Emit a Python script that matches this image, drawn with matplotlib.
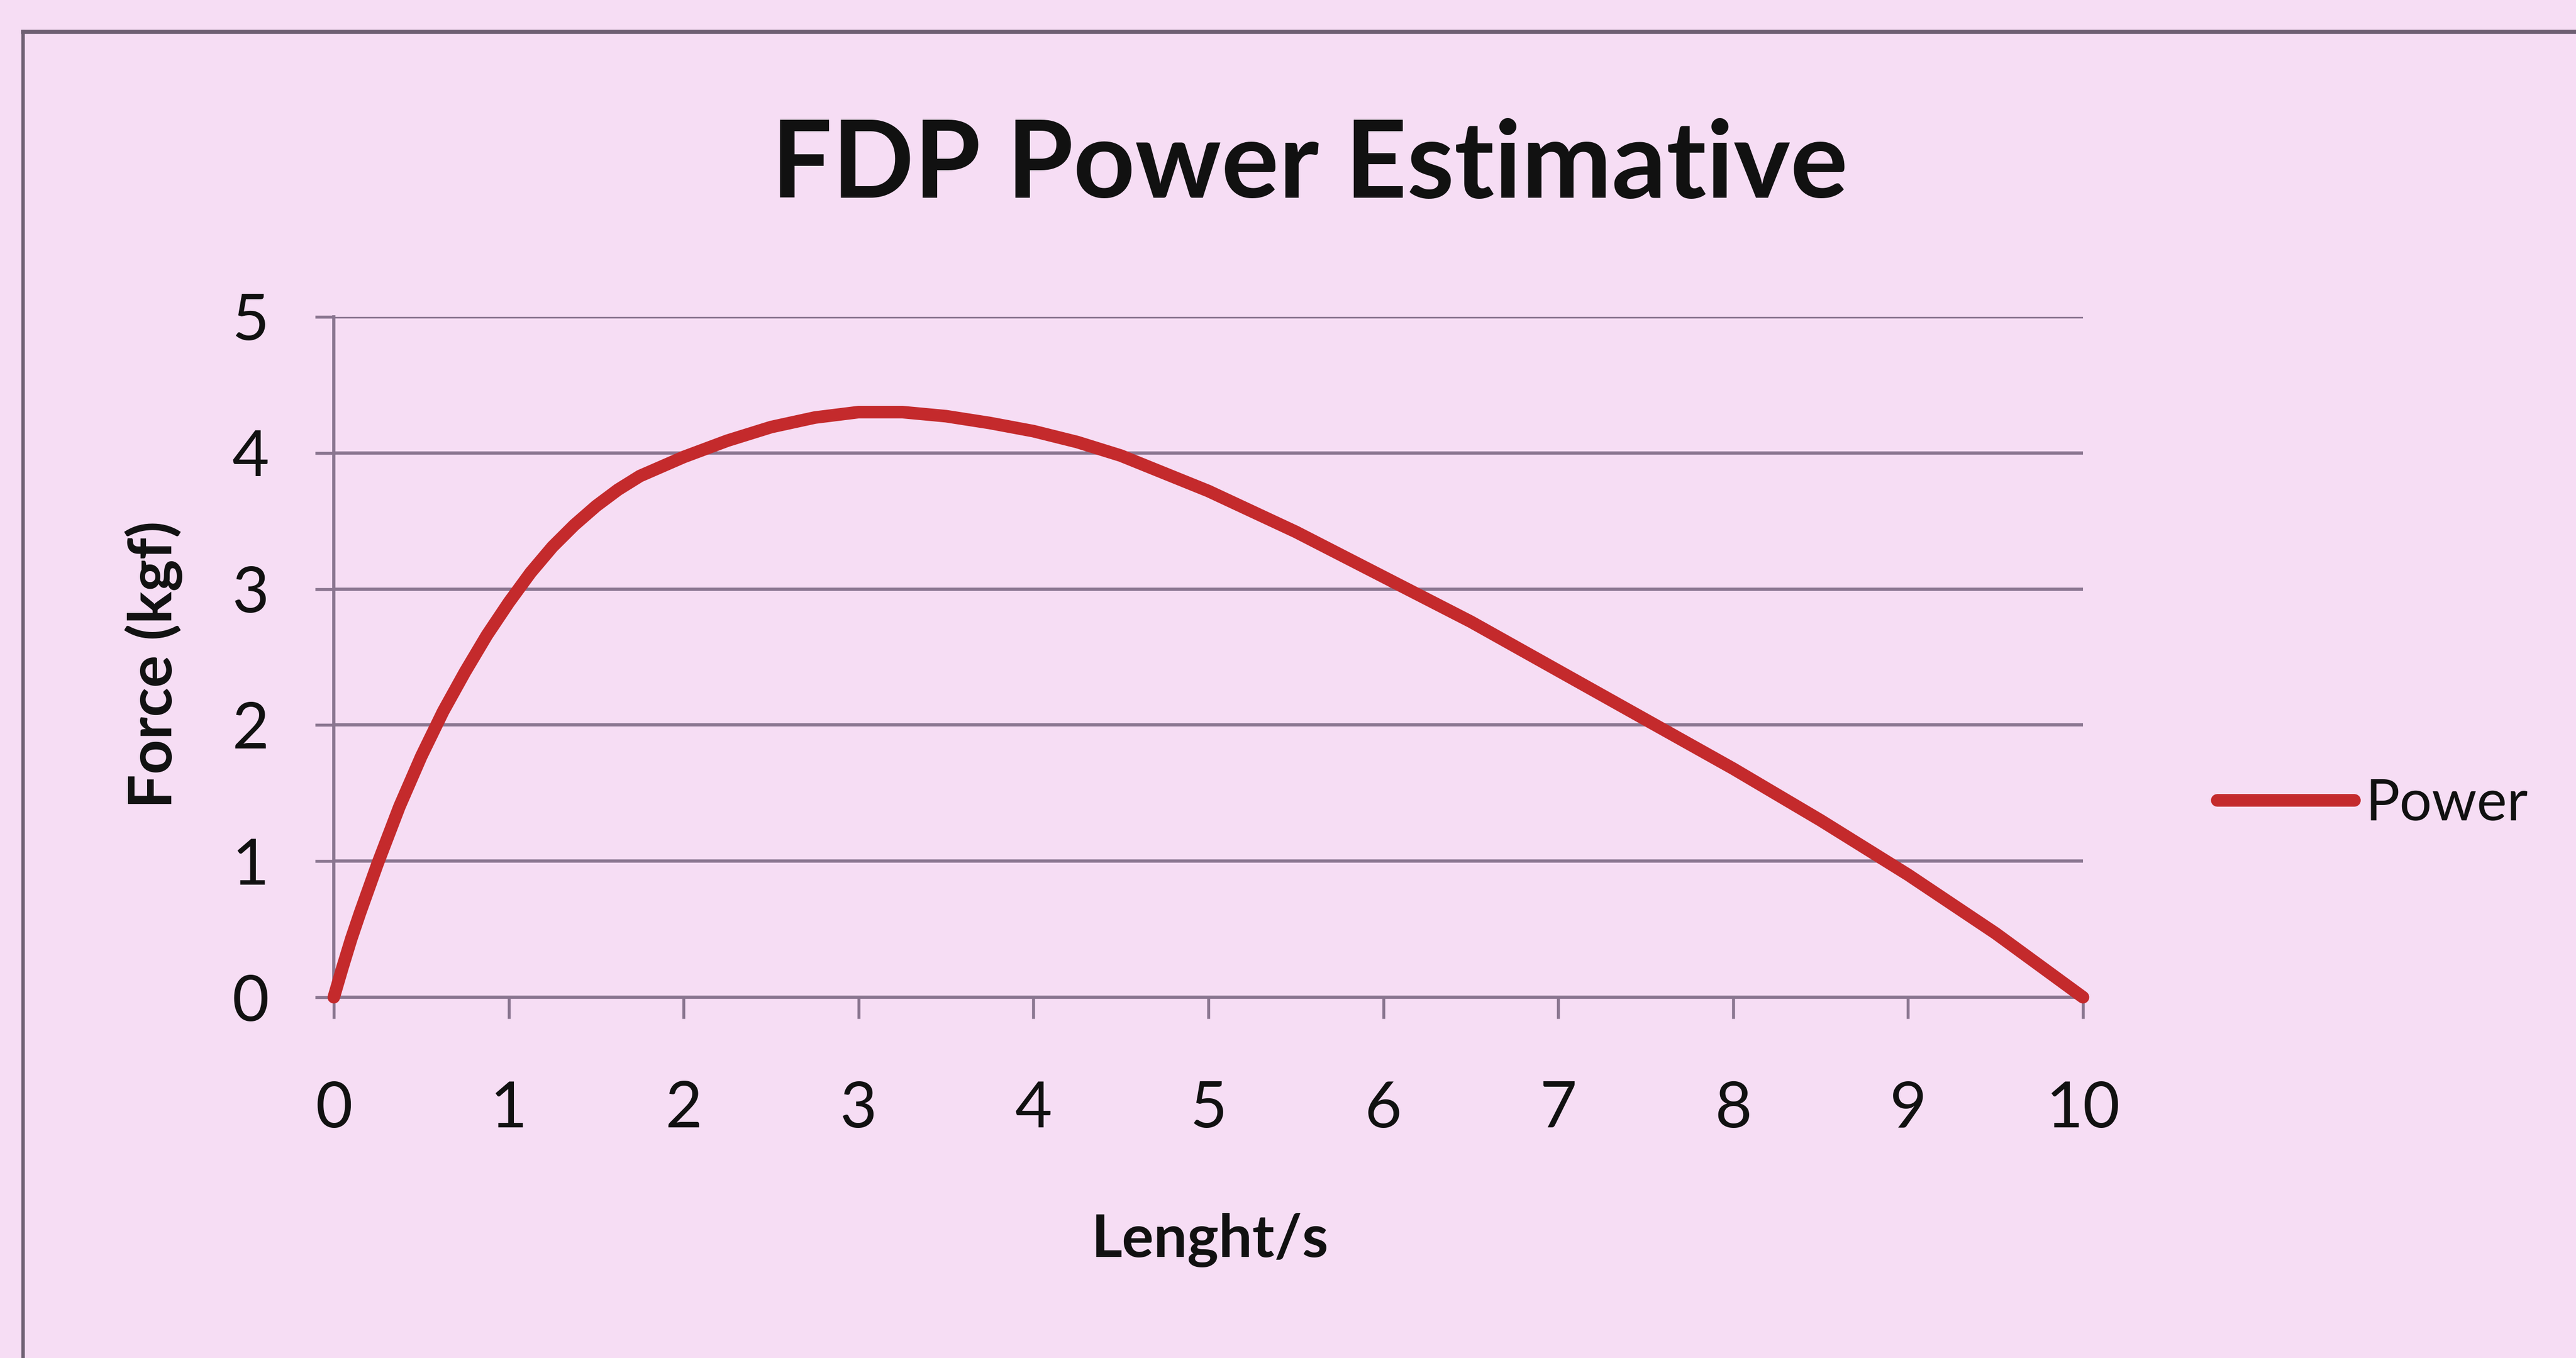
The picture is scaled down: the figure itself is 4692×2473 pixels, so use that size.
import matplotlib
matplotlib.use("Agg")
import matplotlib.pyplot as plt
from matplotlib.lines import Line2D

# values
speed = [0, 0.05, 0.1, 0.15, 0.25, 0.375, 0.5, 0.625, 0.75, 0.875, 1, 1.125, 1.25,
         1.375, 1.5, 1.625, 1.75, 1.875, 2, 2.25, 2.5, 2.75, 3, 3.25, 3.5, 3.75,
         4, 4.25, 4.5, 5, 5.5, 6, 6.5, 7, 7.5, 8, 8.5, 9, 9.5, 10]
power = [0, 0.22, 0.43, 0.62, 0.98, 1.40, 1.77, 2.10, 2.39, 2.66, 2.90, 3.12, 3.31,
         3.47, 3.61, 3.73, 3.83, 3.90, 3.97, 4.09, 4.19, 4.26, 4.30, 4.30, 4.27, 4.22,
         4.16, 4.08, 3.98, 3.72, 3.42, 3.09, 2.76, 2.40, 2.04, 1.68, 1.30, 0.90, 0.47, 0]
x_ticks = list(range(0, 11))
y_ticks = list(range(0, 6))

bg = "#F6DDF4"
grid_col = "#8A7690"
red = "#C42A2C"

plt.rcParams["font.family"] = ["Lato", "DejaVu Sans"]

W, H = 4692, 2473
fig = plt.figure(figsize=(W / 300, H / 300), dpi=300, facecolor=bg)
ax = fig.add_axes([608 / W, 1 - 1816 / H, (3794 - 608) / W, (1816 - 577) / H])
ax.set_facecolor(bg)

ax.plot(speed, power, color=red, lw=5.5, solid_capstyle="round",
        solid_joinstyle="round", label="Power", clip_on=False, zorder=3)

ax.set_xlim(0, 10)
ax.set_ylim(0, 5)
ax.set_xticks(x_ticks)
ax.set_yticks(y_ticks)
ax.yaxis.grid(True, color=grid_col, lw=1.4)
ax.set_axisbelow(True)
for s in ["top", "right"]:
    ax.spines[s].set_visible(False)
for s in ["left", "bottom"]:
    ax.spines[s].set_color(grid_col)
    ax.spines[s].set_linewidth(1.4)
ax.tick_params(axis="x", direction="out", length=9.4, width=1.3, color=grid_col,
               pad=27, labelsize=28, labelcolor="#111111")
ax.tick_params(axis="y", direction="out", length=8.2, width=1.3, color=grid_col,
               pad=20, labelsize=28, labelcolor="#111111")

fig.text(2385 / W, 1 - 360 / H, "FDP Power Estimative", ha="center", va="baseline",
         fontsize=47, fontweight="bold", color="#111111")
fig.text(2203 / W, 1 - 2289 / H, "Lenght/s", ha="center", va="baseline",
         fontsize=26, fontweight="bold", color="#111111")
fig.text(280 / W, 1 - 1210 / H, "Force (kgf)", ha="center", va="center", rotation=90,
         fontsize=26.5, fontweight="bold", color="#111111")

ax.legend(loc="center left", bbox_to_anchor=(4038 / W, 1 - 1464 / H),
          bbox_transform=fig.transFigure, frameon=False, fontsize=25,
          handlelength=2.4, handletextpad=0.2, borderpad=0, borderaxespad=0,
          labelcolor="#111111")

# outer chart frame, cut off by the scan on the right and bottom
fig.add_artist(Line2D([42 / W, 42 / W], [0, 1 - 58 / H], color="#6E5F72", lw=1.5,
                      transform=fig.transFigure))
fig.add_artist(Line2D([42 / W, 1], [1 - 58 / H, 1 - 58 / H], color="#6E5F72", lw=1.8,
                      transform=fig.transFigure))

fig.savefig("out.png", dpi=300, facecolor=bg)
